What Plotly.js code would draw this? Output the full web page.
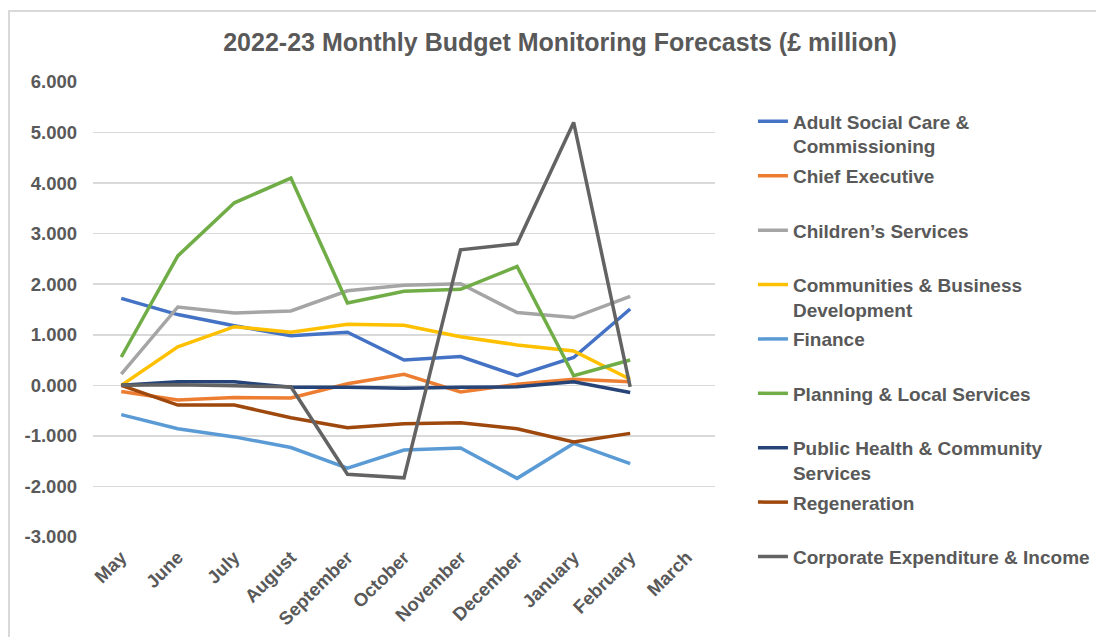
<!DOCTYPE html>
<html><head><meta charset="utf-8">
<script src="https://cdn.plot.ly/plotly-3.0.1.min.js"></script>
<style>
html,body{margin:0;padding:0;overflow:hidden;background:#fff}
#chart{position:absolute;left:0;top:0;width:1096px;height:637px}
#frame{position:absolute;left:8px;top:10px;width:1200px;height:700px;border:2px solid #d9d9d9;pointer-events:none}
</style></head><body>
<div id="chart"></div><div id="frame"></div>
<script>
const months = ['May','June','July','August','September','October','November','December','January','February','March'];
const adultSocialCare = [1.72, 1.40, 1.18, 0.98, 1.05, 0.50, 0.57, 0.19, 0.55, 1.51, null];
const chiefExecutive = [-0.12, -0.29, -0.24, -0.25, 0.03, 0.22, -0.13, 0.02, 0.12, 0.07, null];
const childrensServices = [0.22, 1.55, 1.43, 1.47, 1.87, 1.98, 2.01, 1.44, 1.34, 1.76, null];
const communities = [0.00, 0.76, 1.16, 1.05, 1.21, 1.19, 0.96, 0.80, 0.68, 0.12, null];
const finance = [-0.58, -0.86, -1.02, -1.23, -1.64, -1.28, -1.24, -1.84, -1.15, -1.55, null];
const planning = [0.56, 2.56, 3.61, 4.10, 1.63, 1.86, 1.90, 2.35, 0.19, 0.50, null];
const publicHealth = [0.00, 0.07, 0.07, -0.04, -0.04, -0.06, -0.04, -0.03, 0.07, -0.14, null];
const regeneration = [0.00, -0.39, -0.39, -0.64, -0.84, -0.76, -0.74, -0.86, -1.12, -0.95, null];
const corporate = [0.00, 0.01, -0.01, -0.03, -1.76, -1.83, 2.68, 2.80, 5.20, -0.03, null];

const seriesNames = ['Adult Social Care &<br>Commissioning','Chief Executive<br> ','Children\u2019s Services<br> ','Communities & Business<br>Development','Finance<br> ','Planning & Local Services<br> ','Public Health & Community<br>Services','Regeneration<br> ','Corporate Expenditure & Income<br> '];
const seriesValues = [adultSocialCare, chiefExecutive, childrensServices, communities, finance, planning, publicHealth, regeneration, corporate];
const seriesColors = ['#4472C4','#ED7D31','#A5A5A5','#FFC000','#5B9BD5','#70AD47','#264478','#9E480E','#636363'];

const yTickVals = [-3, -2, -1, 0, 1, 2, 3, 4, 5, 6];
const yTickText = ['-3.000','-2.000','-1.000','0.000','1.000','2.000','3.000','4.000','5.000','6.000'];

const traces = seriesValues.map((v, i) => ({
  type: 'scatter', mode: 'lines', x: months, y: v, name: seriesNames[i], legendgroup: 'g' + i,
  line: {color: seriesColors[i], width: 3.5}, connectgaps: false
}));

const font = 'Liberation Sans, Arial, sans-serif';
const layout = {
  width: 1096, height: 637,
  margin: {l: 93, r: 381, t: 82, b: 100, pad: 0, autoexpand: false},
  paper_bgcolor: '#fff', plot_bgcolor: '#fff',
  font: {family: font, color: '#595959', size: 18, weight: 'bold'},
  title: {text: '<b>2022-23 Monthly Budget Monitoring Forecasts (£ million)</b>', font: {family: font, size: 25, color: '#595959'},
    xref: 'container', x: 0.511, xanchor: 'center', yref: 'container', y: 0.934, yanchor: 'middle'},
  xaxis: {type: 'category', range: [-0.5, 10.5], showgrid: false, zeroline: false, showline: false, ticks: '',
    tickangle: -45, ticklabelstandoff: 5, tickfont: {family: font, size: 18.5, color: '#595959', weight: 'bold'}},
  yaxis: {range: [-3, 6], tickvals: yTickVals, ticktext: yTickText, showgrid: true, gridcolor: '#d9d9d9', gridwidth: 1.5,
    zeroline: false, showline: false, ticks: '', ticklabelstandoff: 15,
    tickfont: {family: font, size: 18.5, color: '#595959', weight: 'bold'}},
  showlegend: true,
  legend: {x: 1.061, xanchor: 'left', y: 0.955, yanchor: 'top', valign: 'top', traceorder: 'grouped', tracegroupgap: 2,
    maxheight: 620,
    font: {family: font, size: 19, color: '#595959', weight: 'bold'}, bgcolor: 'rgba(0,0,0,0)', borderwidth: 0}
};
Plotly.newPlot('chart', traces, layout, {displayModeBar: false, staticPlot: true});
</script></body></html>
